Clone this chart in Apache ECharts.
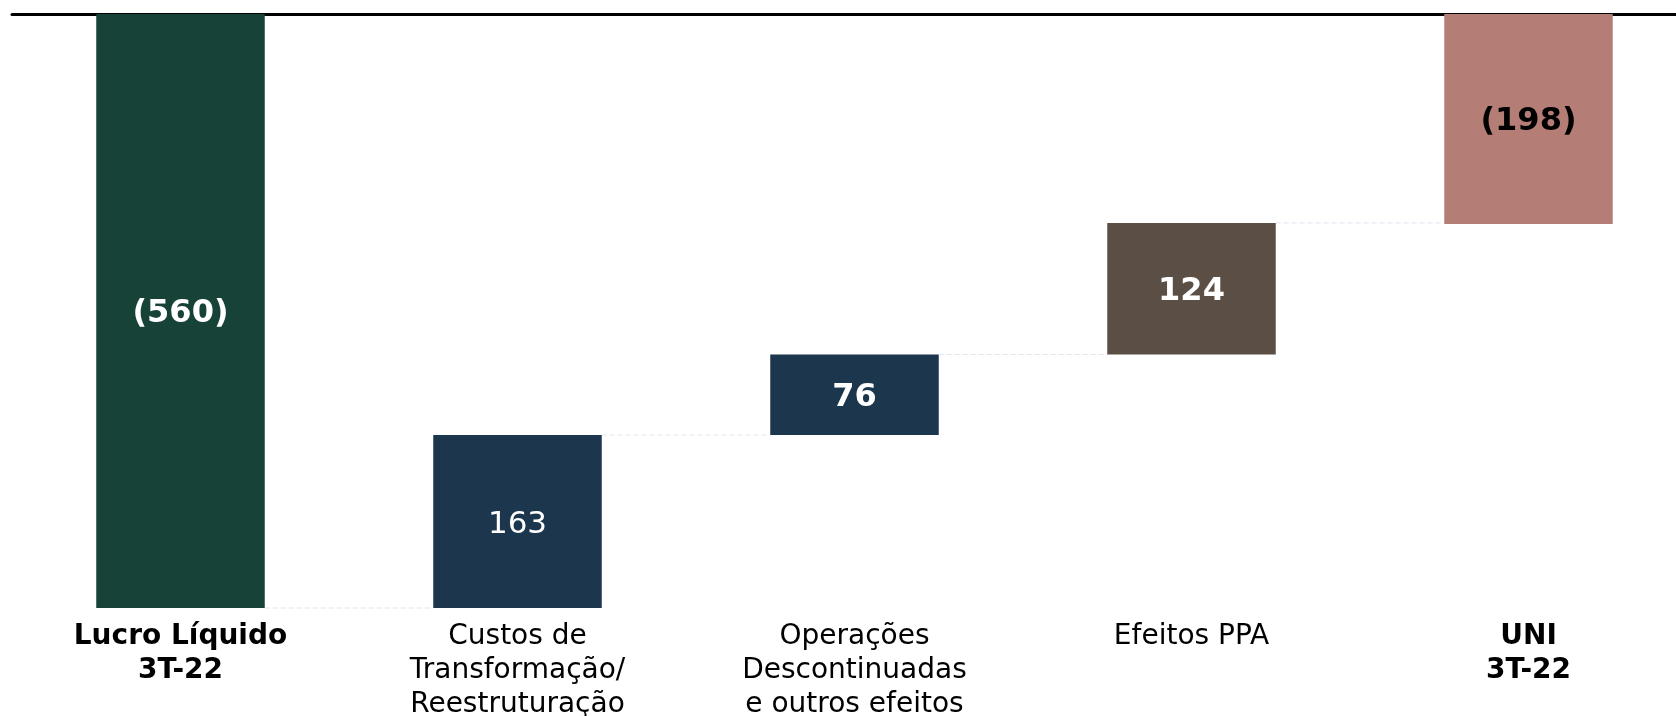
<!DOCTYPE html>
<html>
<head>
<meta charset="utf-8">
<script src="https://cdn.jsdelivr.net/npm/echarts@6/dist/echarts.min.js"></script>
<style>
  html, body { margin: 0; padding: 0; background: #ffffff; }
  #chart { width: 1676px; height: 716px; }
</style>
</head>
<body>
<div id="chart"></div>
<script>
// chart values
const categories = [
  'Lucro Líquido\n3T-22',
  'Custos de\nTransformação/\nReestruturação',
  'Operações\nDescontinuadas\ne outros efeitos',
  'Efeitos PPA',
  'UNI\n3T-22'
];
const boldCategory = [true, false, false, false, true];
const startValue = -560;
const deltas = [163, 76, 124];
const endValue = -198;
const valueLabels = ['(560)', '163', '76', '124', '(198)'];

const barColors = ['#164238', '#1c364d', '#1c364d', '#5a4e45', '#b47d75'];
const labelColors = ['#ffffff', '#ffffff', '#ffffff', '#ffffff', '#000000'];
const labelBold = [true, false, true, true, true];

const fontFamily = 'DejaVu Sans';

// waterfall: transparent base + visible part, built from the values above
let running = startValue;
const baseData = [0];
const barData = [startValue];
const levels = [startValue];
deltas.forEach(d => {
  const top = running + d;
  baseData.push(top);
  barData.push(-d);
  running = top;
  levels.push(running);
});
baseData.push(0);
barData.push(endValue);

const chart = echarts.init(document.getElementById('chart'));

const option = {
  animation: false,
  grid: { left: 12, width: 1685, top: 14, bottom: 108, outerBoundsMode: 'none', containLabel: false },
  xAxis: [
    {
      type: 'category',
      position: 'bottom',
      data: categories.map((c, i) => ({
        value: c,
        textStyle: { fontWeight: boldCategory[i] ? 'bold' : 'normal' }
      })),
      axisLine: { show: false, onZero: false },
      axisTick: { show: false },
      axisLabel: {
        interval: 0,
        margin: 12,
        color: '#000000',
        fontFamily: fontFamily,
        fontSize: 28,
        lineHeight: 34
      }
    },
    {
      type: 'category',
      position: 'top',
      data: categories,
      axisLine: { show: true, onZero: false, lineStyle: { color: '#000000', width: 3 } },
      axisTick: { show: false },
      axisLabel: { show: false }
    }
  ],
  yAxis: {
    type: 'value',
    min: -560,
    max: 0,
    show: false,
    splitLine: { show: false }
  },
  series: [
    {
      name: 'base',
      type: 'bar',
      stack: 'w',
      barWidth: '50%',
      silent: true,
      itemStyle: { color: 'transparent' },
      data: baseData
    },
    {
      name: 'valor',
      type: 'bar',
      stack: 'w',
      barWidth: '50%',
      data: barData.map((v, i) => ({
        value: v,
        itemStyle: { color: barColors[i] },
        label: {
          color: labelColors[i],
          fontWeight: labelBold[i] ? 'bold' : 'normal',
          fontSize: labelBold[i] ? 32 : 31
        }
      })),
      label: {
        show: true,
        position: 'inside',
        offset: [0, 3],
        fontFamily: fontFamily,
        formatter: p => valueLabels[p.dataIndex]
      }
    },
    {
      // dashed connectors between bars
      type: 'custom',
      silent: true,
      z: 1,
      data: levels.map((l, i) => [i, l]),
      renderItem: function (params, api) {
        const p1 = api.coord([api.value(0), api.value(1)]);
        const p2 = api.coord([api.value(0) + 1, api.value(1)]);
        const hw = api.size([1, 0])[0] * 0.25;
        return {
          type: 'line',
          shape: { x1: p1[0] + hw, y1: p1[1], x2: p2[0] - hw, y2: p2[1] },
          style: { stroke: '#dfe5ef', lineWidth: 1, lineDash: [5, 3] }
        };
      }
    }
  ]
};

chart.setOption(option);
</script>
</body>
</html>
